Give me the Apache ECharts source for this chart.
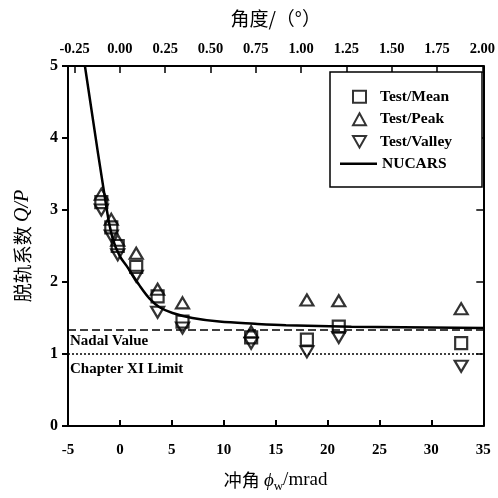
<!DOCTYPE html>
<html><head><meta charset="utf-8">
<script src="https://cdn.jsdelivr.net/npm/echarts@6/dist/echarts.min.js"></script>
<style>html,body{margin:0;padding:0;background:#fff}#c{width:498px;height:498px}</style>
</head><body><div id="c"></div>
<script>
// ---- data ----
const testAngles  = [-1.79, -0.83, -0.21, 1.57, 3.63, 6.03, 12.64, 18.01, 21.08, 32.87];
const testMean    = [3.11, 2.76, 2.50, 2.21, 1.80, 1.45, 1.23, 1.20, 1.38, 1.15];
const testPeak    = [3.22, 2.87, 2.58, 2.40, 1.90, 1.71, 1.31, 1.75, 1.74, 1.63];
const testValley  = [3.00, 2.64, 2.38, 2.08, 1.58, 1.36, 1.15, 1.03, 1.23, 0.83];
const nucarsAngles = [-3.37, -1.26, -0.69, -0.01, 0.66, 1.9, 2.86, 3.82, 5.07, 6.98, 9.57, 13.0, 16.0, 22.3, 35.0];
const nucarsQP     = [5.0, 3.0, 2.60, 2.36, 2.22, 1.95, 1.77, 1.65, 1.57, 1.50, 1.45, 1.42, 1.40, 1.38, 1.36];
const nadalValue = 1.34;
const chapterXILimit = 1.0;
const mradTicks = [-5, 0, 5, 10, 15, 20, 25, 30, 35];
const qpTicks = [0, 1, 2, 3, 4, 5];
const degreeTicks = [-0.25, 0, 0.25, 0.5, 0.75, 1.0, 1.25, 1.5, 1.75, 2.0];
const mradToDeg = 180 / Math.PI / 1000;

const serif = "'Liberation Serif', 'Noto Sans CJK SC', serif";
const cjk = "'Noto Sans CJK SC', sans-serif";
const invTri = 'path://M0,0L10,0L5,8.66Z';

const pairs = (xs, ys) => xs.map((x, i) => [x, ys[i]]);
const hollow = { color: 'rgba(0,0,0,0)', borderColor: '#000', borderWidth: 2.2 };
const legendText = { color: '#000', fontFamily: serif, fontWeight: 'bold', fontSize: 15.5, lineHeight: 15 };

const chart = echarts.init(document.getElementById('c'), null, { renderer: 'canvas' });
chart.setOption({
  animation: false,
  backgroundColor: '#fff',
  grid: { left: 68, right: 13, top: 66, bottom: 70, containLabel: false },
  xAxis: [
    {
      type: 'value', position: 'bottom', min: mradTicks[0], max: mradTicks[mradTicks.length - 1], interval: 5,
      axisLine: { show: true, onZero: false, lineStyle: { color: '#000', width: 2 } },
      axisTick: { show: true, inside: true, length: 6, lineStyle: { color: '#000', width: 2 } },
      axisLabel: { color: '#000', fontFamily: serif, fontWeight: 'bold', fontSize: 15, margin: 17 },
      splitLine: { show: false },
      name: '{cn|冲角 }{it|ϕ}{sub|w}{n|/mrad}', nameLocation: 'middle', nameGap: 42,
      nameTextStyle: {
        color: '#000',
        rich: {
          cn: { fontFamily: cjk, fontSize: 18, color: '#000' },
          it: { fontFamily: serif, fontStyle: 'italic', fontSize: 19, color: '#000' },
          sub: { fontFamily: serif, fontSize: 13, color: '#000', padding: [12, 0, 0, 0] },
          n: { fontFamily: serif, fontSize: 19, color: '#000' }
        }
      }
    },
    {
      type: 'value', position: 'top', min: mradTicks[0] * mradToDeg, max: mradTicks[mradTicks.length - 1] * mradToDeg,
      axisLine: { show: true, onZero: false, lineStyle: { color: '#000', width: 2 } },
      axisTick: { show: true, inside: true, length: 7, customValues: degreeTicks, lineStyle: { color: '#000', width: 1.5 } },
      axisLabel: { color: '#000', fontFamily: serif, fontWeight: 'bold', fontSize: 14.5, margin: 10,
        customValues: degreeTicks, formatter: v => v.toFixed(2) },
      splitLine: { show: false },
      name: '角度/（°）', nameLocation: 'middle', nameGap: 38,
      nameTextStyle: { color: '#000', fontFamily: cjk, fontSize: 19 }
    }
  ],
  yAxis: [
    {
      type: 'value', position: 'left', min: qpTicks[0], max: qpTicks[qpTicks.length - 1], interval: 1,
      axisLine: { show: true, onZero: false, lineStyle: { color: '#000', width: 2 } },
      axisTick: { show: true, inside: false, length: 6, lineStyle: { color: '#000', width: 2 } },
      axisLabel: { color: '#000', fontFamily: serif, fontWeight: 'bold', fontSize: 16, margin: 10 },
      splitLine: { show: false },
      name: '{cn|脱轨系数 }{it|Q/P}', nameLocation: 'middle', nameGap: 35,
      nameTextStyle: {
        color: '#000',
        rich: {
          cn: { fontFamily: cjk, fontSize: 19, color: '#000' },
          it: { fontFamily: serif, fontStyle: 'italic', fontSize: 20, color: '#000' }
        }
      }
    },
    {
      type: 'value', position: 'right', min: qpTicks[0], max: qpTicks[qpTicks.length - 1], interval: 1,
      axisLine: { show: true, onZero: false, lineStyle: { color: '#000', width: 2 } },
      axisTick: { show: true, inside: true, length: 7, lineStyle: { color: '#000', width: 1.5 } },
      axisLabel: { show: false },
      splitLine: { show: false }
    }
  ],
  graphic: [{
    type: 'rect', z: 3, shape: { x: 330, y: 72, width: 152, height: 115 },
    style: { fill: '#fff', stroke: '#000', lineWidth: 1.5 }
  }],
  legend: [
    {
      orient: 'vertical', left: 347, top: 84, z: 10,
      itemWidth: 13, itemHeight: 12, itemGap: 7,
      data: ['Test/Mean', 'Test/Peak', 'Test/Valley'],
      textStyle: Object.assign({ padding: [0, 0, 0, 9] }, legendText)
    },
    {
      orient: 'vertical', left: 335, top: 151, z: 10,
      itemWidth: 37, itemHeight: 2.5,
      data: [{ name: 'NUCARS', icon: 'rect' }],
      itemStyle: { color: '#000' },
      textStyle: legendText
    }
  ],
  series: [
    {
      name: 'Test/Mean', type: 'scatter', xAxisIndex: 0, yAxisIndex: 0,
      symbol: 'rect', symbolSize: 12, itemStyle: hollow, z: 3,
      data: pairs(testAngles, testMean)
    },
    {
      name: 'Test/Peak', type: 'scatter', xAxisIndex: 0, yAxisIndex: 0,
      symbol: 'triangle', symbolSize: [13, 11], itemStyle: hollow, z: 3,
      data: pairs(testAngles, testPeak)
    },
    {
      name: 'Test/Valley', type: 'scatter', xAxisIndex: 0, yAxisIndex: 0,
      symbol: invTri, symbolSize: [13, 11], itemStyle: hollow, z: 3,
      data: pairs(testAngles, testValley)
    },
    {
      name: 'NUCARS', type: 'line', xAxisIndex: 0, yAxisIndex: 0,
      showSymbol: false, symbol: 'none', smooth: 0.35, clip: true,
      lineStyle: { color: '#000', width: 2.5 }, itemStyle: { color: '#000' }, z: 4,
      data: pairs(nucarsAngles, nucarsQP)
    },
    {
      name: 'limits', type: 'line', xAxisIndex: 0, yAxisIndex: 0, data: [],
      markLine: {
        silent: true, symbol: 'none', animation: false,
        label: { show: true, position: 'insideStartBottom', color: '#000',
          fontFamily: serif, fontWeight: 'bold', fontSize: 15 },
        data: [
          { yAxis: nadalValue, lineStyle: { type: [8, 4], color: '#000', width: 1.5 },
            label: { formatter: 'Nadal Value', distance: [2, 4] } },
          { yAxis: chapterXILimit, lineStyle: { type: [2, 2], color: '#000', width: 1.5 },
            label: { formatter: 'Chapter XI Limit', distance: [2, 8] } }
        ]
      }
    }
  ]
});
</script></body></html>
